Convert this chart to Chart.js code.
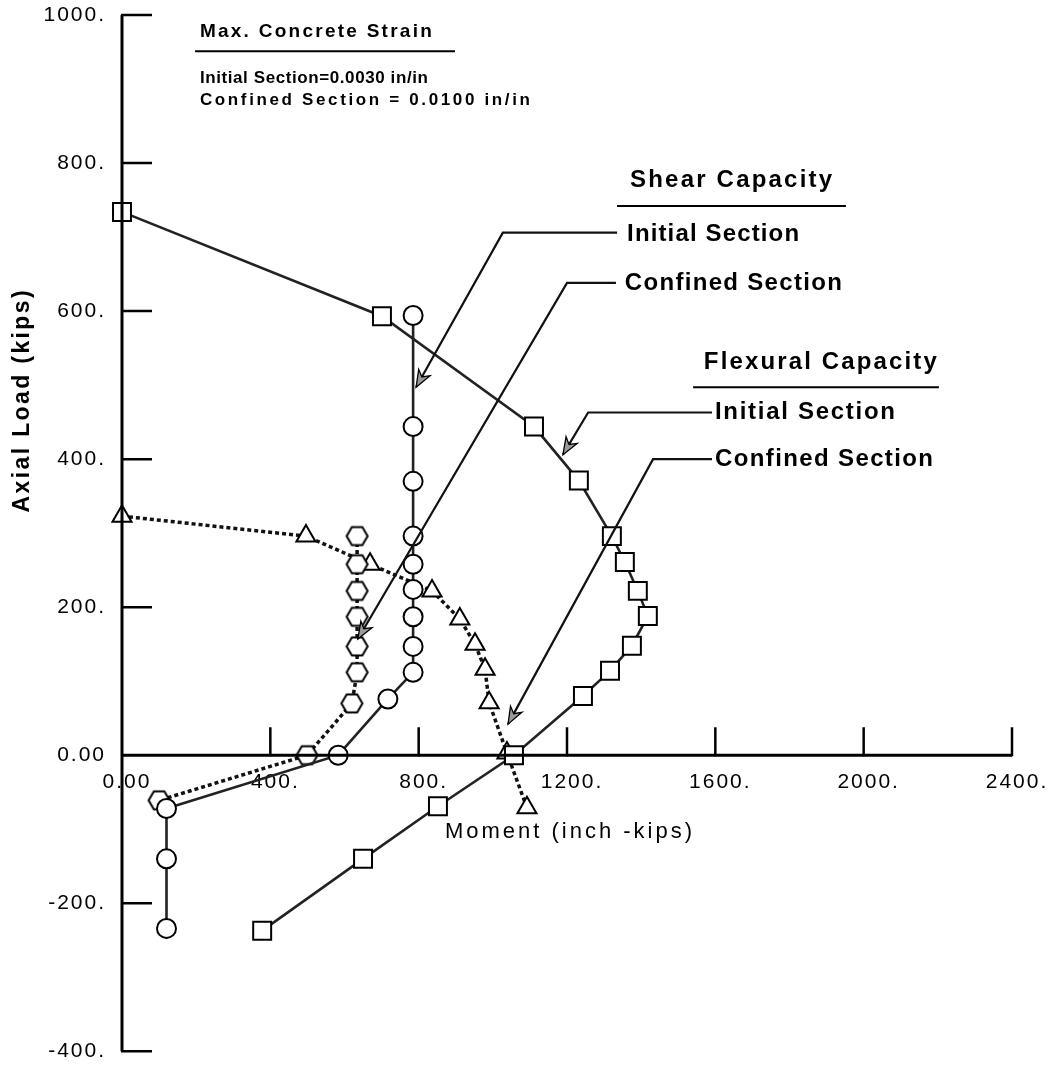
<!DOCTYPE html>
<html><head><meta charset="utf-8">
<script src="https://cdn.jsdelivr.net/npm/chart.js@4.4.1/dist/chart.umd.min.js"></script>
<style>html,body{margin:0;padding:0;background:#fff;}canvas{display:block;}</style>
</head><body>
<canvas id="c" width="1052" height="1066" style="width:1052px;height:1066px"></canvas>
<script>
// ---------- data (moment in inch-kips, axial load in kips) ----------
const flexInitialMoment = [0, 701, 1111, 1232, 1321, 1356, 1391, 1418, 1375, 1316, 1243, 1057, 852, 650, 378];
const flexInitialLoad   = [734, 593, 444, 371, 296, 261, 222, 188, 148, 114, 80, 0, -69, -140, -237];
const flexConfinedMoment = [0, 496, 669, 836, 911, 952, 979, 990, 1038, 1092];
const flexConfinedLoad   = [323, 296, 258, 222, 184, 150, 116, 71, 3, -71];
const shearInitialMoment = [785, 785, 785, 785, 785, 785, 785, 785, 785, 717, 583, 120, 120, 120];
const shearInitialLoad   = [594, 444, 370, 296, 258, 224, 187, 147, 112, 76, 0, -72, -140, -234];
const shearConfinedMoment = [634, 634, 634, 634, 634, 634, 620, 499, 100];
const shearConfinedLoad   = [296, 258, 222, 187, 147, 112, 70, 0, -61];
const xTickValues = [0, 400, 800, 1200, 1600, 2000, 2400];
const xTickLabels = ['0.00', '400.', '800.', '1200.', '1600.', '2000.', '2400.'];
const yTickValues = [1000, 800, 600, 400, 200, 0, -200, -400];
const yTickLabels = ['1000.', '800.', '600.', '400.', '200.', '0.00', '-200.', '-400.'];

// ---------- annotations (in data units) ----------
const FONT = '"Liberation Sans", Arial, sans-serif';
const annoTexts = [
  {text: 'Max. Concrete Strain', x: 210, y: 977, w: 232, font: 'bold 19px ' + FONT},
  {text: 'Initial Section=0.0030 in/in', x: 210, y: 915, w: 228, font: 'bold 17px ' + FONT},
  {text: 'Confined Section = 0.0100 in/in', x: 210, y: 885, w: 330, font: 'bold 17px ' + FONT},
  {text: 'Shear Capacity', x: 1370, y: 777, w: 202, font: 'bold 24px ' + FONT},
  {text: 'Initial Section', x: 1362, y: 703, w: 172, font: 'bold 24px ' + FONT},
  {text: 'Confined Section', x: 1356, y: 638, w: 217, font: 'bold 24px ' + FONT},
  {text: 'Flexural Capacity', x: 1569, y: 531, w: 233, font: 'bold 24px ' + FONT},
  {text: 'Initial Section', x: 1599, y: 463, w: 180, font: 'bold 24px ' + FONT},
  {text: 'Confined Section', x: 1599, y: 400, w: 218, font: 'bold 24px ' + FONT},
  {text: 'Moment (inch -kips)', x: 871, y: -103, w: 247, font: '22px ' + FONT}
];
const yTitle = {text: 'Axial Load (kips)', x: -267, y: 478, w: 222, font: 'bold 23px ' + FONT};
const underlines = [
  {x1: 197, x2: 898, y: 951},
  {x1: 1335, x2: 1952, y: 742},
  {x1: 1540, x2: 2203, y: 497}
];
const leaders = [
  [[1335, 706], [1027, 706], [793, 497]],
  [[1332, 638], [1200, 638], [636, 157]],
  [[1591, 463], [1257, 463], [1189, 406]],
  [[1591, 400], [1432, 400], [1041, 42]]
];

// ---------- helpers ----------
const toXY = (xs, ys) => xs.map((x, i) => ({x: x, y: ys[i]}));
function hexImage(r, lw) {
  const s = Math.ceil(2 * r + 2 * lw + 2);
  const c = document.createElement('canvas');
  c.width = s; c.height = s;
  const g = c.getContext('2d');
  g.translate(s / 2, s / 2);
  g.beginPath();
  for (let i = 0; i < 6; i++) {
    const a = Math.PI / 3 * i;
    g.lineTo(r * Math.cos(a), r * Math.sin(a));
  }
  g.closePath();
  g.fillStyle = '#fff'; g.fill();
  g.lineWidth = lw; g.strokeStyle = '#000'; g.stroke();
  return c;
}
function drawFit(ctx, text, x, y, width, font) {
  ctx.save();
  ctx.font = font;
  ctx.letterSpacing = '0px';
  const w = ctx.measureText(text).width;
  const ls = text.length > 1 ? (width - w) / (text.length - 1) : 0;
  ctx.letterSpacing = ls.toFixed(2) + 'px';
  ctx.textBaseline = 'middle';
  ctx.textAlign = 'left';
  ctx.fillStyle = '#000';
  ctx.fillText(text, x, y);
  ctx.restore();
}

const common = {
  showLine: true, tension: 0, clip: false,
  pointBorderColor: '#000', pointBackgroundColor: '#fff', pointBorderWidth: 2,
  pointHoverRadius: 0
};

const decorPlugin = {
  id: 'decor',
  beforeDraw(chart) {
    chart.ctx.letterSpacing = '2px';
  },
  afterDatasetsDraw(chart) {
    const ctx = chart.ctx, xs = chart.scales.x, ys = chart.scales.y;
    const x0 = xs.getPixelForValue(0), y0 = ys.getPixelForValue(0);
    ctx.save();
    ctx.strokeStyle = '#000';
    ctx.lineCap = 'butt';
    // axis lines
    ctx.lineWidth = 3;
    ctx.beginPath();
    ctx.moveTo(x0, ys.getPixelForValue(1000));
    ctx.lineTo(x0, ys.getPixelForValue(-400));
    ctx.moveTo(x0, y0);
    ctx.lineTo(xs.getPixelForValue(2400), y0);
    ctx.stroke();
    // tick marks
    ctx.lineWidth = 2.5;
    ctx.beginPath();
    yTickValues.forEach(v => {
      if (v === 0) return;
      const p = ys.getPixelForValue(v);
      ctx.moveTo(x0 - 1, p); ctx.lineTo(x0 + 30, p);
    });
    xTickValues.forEach(v => {
      if (v === 0) return;
      const p = xs.getPixelForValue(v);
      ctx.moveTo(p, y0 + 1); ctx.lineTo(p, y0 - 28);
    });
    ctx.stroke();
    ctx.restore();
  },
  afterDraw(chart) {
    const ctx = chart.ctx, xs = chart.scales.x, ys = chart.scales.y;
    const X = v => xs.getPixelForValue(v), Y = v => ys.getPixelForValue(v);
    ctx.save();
    ctx.letterSpacing = '0px';
    // texts
    annoTexts.forEach(t => drawFit(ctx, t.text, X(t.x), Y(t.y), t.w, t.font));
    ctx.save();
    ctx.translate(X(yTitle.x), Y(yTitle.y));
    ctx.rotate(-Math.PI / 2);
    drawFit(ctx, yTitle.text, -yTitle.w / 2, 0, yTitle.w, yTitle.font);
    ctx.restore();
    // underlines
    ctx.strokeStyle = '#000';
    ctx.lineWidth = 2;
    underlines.forEach(u => {
      ctx.beginPath();
      ctx.moveTo(X(u.x1), Y(u.y)); ctx.lineTo(X(u.x2), Y(u.y));
      ctx.stroke();
    });
    // leader lines with arrow heads
    leaders.forEach(l => {
      const pts = l.map(p => [X(p[0]), Y(p[1])]);
      ctx.beginPath();
      ctx.lineWidth = 2.2;
      ctx.strokeStyle = '#111';
      pts.forEach((p, i) => i ? ctx.lineTo(p[0], p[1]) : ctx.moveTo(p[0], p[1]));
      ctx.stroke();
      const tip = pts[pts.length - 1], prev = pts[pts.length - 2];
      const ang = Math.atan2(tip[1] - prev[1], tip[0] - prev[0]);
      const L = 17, H = 6.5;
      const bx = tip[0] - L * Math.cos(ang), by = tip[1] - L * Math.sin(ang);
      ctx.beginPath();
      ctx.moveTo(tip[0], tip[1]);
      ctx.lineTo(bx + H * Math.sin(ang), by - H * Math.cos(ang));
      ctx.lineTo(tip[0] - 0.7 * L * Math.cos(ang), tip[1] - 0.7 * L * Math.sin(ang));
      ctx.lineTo(bx - H * Math.sin(ang), by + H * Math.cos(ang));
      ctx.closePath();
      ctx.fillStyle = '#9a9a9a';
      ctx.fill();
      ctx.lineWidth = 1.3;
      ctx.strokeStyle = '#000';
      ctx.stroke();
    });
    ctx.restore();
  }
};

new Chart(document.getElementById('c'), {
  type: 'scatter',
  data: {
    datasets: [
      Object.assign({}, common, {
        label: 'Shear Capacity - Initial Section',
        data: toXY(shearInitialMoment, shearInitialLoad),
        borderColor: '#222', borderWidth: 2.6,
        pointStyle: 'circle', pointRadius: 9.5
      }),
      Object.assign({}, common, {
        label: 'Shear Capacity - Confined Section',
        data: toXY(shearConfinedMoment, shearConfinedLoad),
        borderColor: '#111', borderWidth: 3.5, borderDash: [4, 3],
        pointStyle: hexImage(10.5, 2), pointRadius: 10
      }),
      Object.assign({}, common, {
        label: 'Flexural Capacity - Initial Section',
        data: toXY(flexInitialMoment, flexInitialLoad),
        borderColor: '#222', borderWidth: 2.6,
        pointStyle: 'rect', pointRadius: 12.7
      }),
      Object.assign({}, common, {
        label: 'Flexural Capacity - Confined Section',
        data: toXY(flexConfinedMoment, flexConfinedLoad),
        borderColor: '#111', borderWidth: 3.5, borderDash: [4, 3],
        pointStyle: 'triangle', pointRadius: 11
      })
    ]
  },
  options: {
    responsive: false,
    animation: false,
    devicePixelRatio: 1,
    layout: {padding: {left: 0, top: 15, right: 40, bottom: 13}},
    plugins: {legend: {display: false}, tooltip: {enabled: false}},
    scales: {
      x: {
        type: 'linear', min: 0, max: 2400,
        position: {y: 0},
        afterBuildTicks: s => { s.ticks = xTickValues.map(v => ({value: v})); },
        afterFit: s => { s.paddingLeft = 0; s.paddingRight = 0; s.paddingTop = 0; s.paddingBottom = 0; },
        ticks: {
          autoSkip: false, maxRotation: 0, padding: 14, labelOffset: 5,
          color: '#000', font: {family: FONT, size: 21},
          callback: v => xTickLabels[xTickValues.indexOf(v)]
        },
        grid: {display: false, drawTicks: false},
        border: {display: false}
      },
      y: {
        type: 'linear', min: -400, max: 1000,
        position: 'left',
        afterFit: s => { s.width = 122; s.paddingTop = 0; s.paddingBottom = 0; s.paddingLeft = 0; s.paddingRight = 0; },
        afterBuildTicks: s => { s.ticks = yTickValues.map(v => ({value: v})); },
        ticks: {
          autoSkip: false, padding: 16,
          color: '#000', font: {family: FONT, size: 21},
          callback: v => yTickLabels[yTickValues.indexOf(v)]
        },
        grid: {display: false, drawTicks: false},
        border: {display: false}
      }
    }
  },
  plugins: [decorPlugin]
});
</script>
</body></html>
